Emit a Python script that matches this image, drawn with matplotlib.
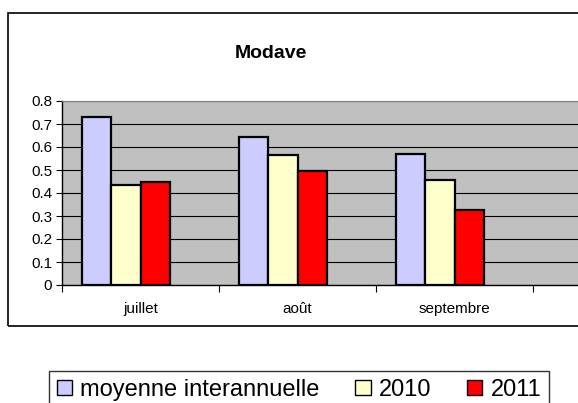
import matplotlib.pyplot as plt
import numpy as np
from matplotlib.patches import Rectangle, Patch

plt.rcParams['font.family'] = ['Liberation Sans', 'DejaVu Sans']

# data
mois = ['juillet', 'août', 'septembre']
series = ['moyenne interannuelle', '2010', '2011']
moyenne = [0.73, 0.645, 0.57]
v2010 = [0.435, 0.565, 0.455]
v2011 = [0.448, 0.495, 0.325]
couleurs = ['#CCCCFF', '#FFFFCC', '#FF0000']

W, H = 578, 403
fig = plt.figure(figsize=(W / 100, H / 100), dpi=100)

# outer chart frame (right side runs off the picture)
fig.patches.append(Rectangle((8 / W, 1 - 326 / H), 700 / W, (326 - 13) / H,
                             transform=fig.transFigure, fill=False,
                             edgecolor='black', linewidth=1.2))

ax = fig.add_axes([62 / W, 1 - 285 / H, 628 / W, 184 / H])
ax.set_facecolor('#C0C0C0')

x = np.arange(len(mois))
w = 0.185
# 4 slots per category, the last one is empty
for i, vals in enumerate([moyenne, v2010, v2011]):
    ax.bar(x + (i - 2) * w, vals, w, color=couleurs[i], edgecolor='black',
           linewidth=1.6, zorder=3, align='edge')

ax.set_xlim(-0.5, 3.5)
ax.set_ylim(0, 0.8)
ax.set_yticks(np.arange(0, 0.81, 0.1))
ax.set_yticklabels(['0'] + ['%.1f' % v for v in np.arange(0.1, 0.81, 0.1)])
ax.yaxis.grid(True, color='black', linewidth=0.8, zorder=1)
ax.set_axisbelow(True)

ax.set_xticks(x)
ax.set_xticklabels(mois)
ax.set_xticks(np.arange(-0.5, 3.6, 1), minor=True)
ax.tick_params(axis='x', which='major', length=0, pad=12, labelsize=11)
ax.tick_params(axis='x', which='minor', length=5, width=0.8, direction='out')
ax.tick_params(axis='y', length=4, width=0.8, pad=3, labelsize=11)

for s in ['top', 'right']:
    ax.spines[s].set_color('#808080')
ax.spines['left'].set_linewidth(1)
ax.spines['bottom'].set_linewidth(1)

fig.text(271 / W, 1 - 54 / H, 'Modave', ha='center', va='center',
         fontsize=14, fontweight='bold')

handles = [Patch(facecolor=c, edgecolor='black', linewidth=1) for c in couleurs]
leg = fig.legend(handles, series, loc='upper center', ncol=3,
                 bbox_to_anchor=(299 / W, 1 - 371 / H), fontsize=17,
                 frameon=True, fancybox=False, edgecolor='black',
                 handlelength=0.65, handleheight=0.6, handletextpad=0.35,
                 columnspacing=1.5, borderpad=0.35, borderaxespad=0)
leg.get_frame().set_linewidth(1)

fig.savefig('out.png', dpi=100)
